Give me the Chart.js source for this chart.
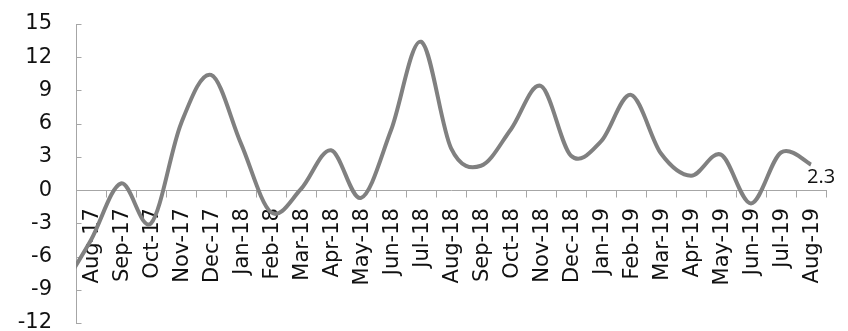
<!DOCTYPE html>
<html>
<head>
<meta charset="utf-8">
<script src="https://cdn.jsdelivr.net/npm/chart.js@4/dist/chart.umd.min.js"></script>
<style>
  html, body { margin: 0; padding: 0; background: #ffffff; }
  #wrap { width: 848px; height: 331px; }
</style>
</head>
<body>
<div id="wrap"><canvas id="chart" width="848" height="331"></canvas></div>
<script>
// Monthly series; the leading month sits just left of the visible range so the
// curve runs in from the axis edge.
const months = [
  'Jul-17',
  'Aug-17', 'Sep-17', 'Oct-17', 'Nov-17', 'Dec-17', 'Jan-18', 'Feb-18', 'Mar-18',
  'Apr-18', 'May-18', 'Jun-18', 'Jul-18', 'Aug-18', 'Sep-18', 'Oct-18', 'Nov-18',
  'Dec-18', 'Jan-19', 'Feb-19', 'Mar-19', 'Apr-19', 'May-19', 'Jun-19', 'Jul-19', 'Aug-19'
];
const growth = [
  -9.0,
  -4.5, 0.6, -3.0, 6.0, 10.4, 4.2, -2.0, 0.1,
  3.6, -0.7, 5.4, 13.4, 3.8, 2.2, 5.5, 9.4,
  3.1, 4.4, 8.6, 3.3, 1.3, 3.2, -1.2, 3.4, 2.3
];
const firstShown = 'Aug-17';
const yMin = -12;
const yMax = 15;
const yStep = 3;

const axisGrey = '#a6a6a6';
const lineGrey = '#808080';
const textColor = '#111111';

// Uniform Catmull-Rom smoothing: bezier handles at 1/6 of the neighbour chord
const smoothCurve = {
  id: 'smoothCurve',
  beforeDatasetsDraw(chart) {
    const meta = chart.getDatasetMeta(0);
    const pts = meta.data;
    const k = 1 / 6;
    for (let i = 0; i < pts.length; i++) {
      const p = pts[i];
      const prev = pts[i - 1] || p;
      const next = pts[i + 1] || p;
      const dx = next.x - prev.x;
      const dy = next.y - prev.y;
      p.cp1x = p.x - dx * k;
      p.cp1y = p.y - dy * k;
      p.cp2x = p.x + dx * k;
      p.cp2y = p.y + dy * k;
    }
    meta.dataset._pointsUpdated = true;
  }
};

// Short tick marks: downward on the category axis (between months),
// inward on the value axis
const axisTicks = {
  id: 'axisTicks',
  beforeDatasetsDraw(chart) {
    const xs = chart.scales.x;
    const ys = chart.scales.y;
    const ctx = chart.ctx;
    const y0 = Math.round(ys.getPixelForValue(0)) + 0.5;
    const xAxis = Math.round(chart.chartArea.left) + 0.5;
    ctx.save();
    ctx.strokeStyle = axisGrey;
    ctx.lineWidth = 1;
    ctx.beginPath();
    const bounds = xs.ticks.map(t => t.value - 0.5);
    bounds.push(xs.ticks[xs.ticks.length - 1].value + 0.5);
    bounds.forEach(v => {
      const px = Math.round(xs.getPixelForValue(v)) + 0.5;
      ctx.moveTo(px, y0);
      ctx.lineTo(px, y0 + 7);
    });
    ys.ticks.forEach(t => {
      const py = Math.round(ys.getPixelForValue(t.value)) + 0.5;
      ctx.moveTo(xAxis, py);
      ctx.lineTo(xAxis + 5, py);
    });
    ctx.stroke();
    ctx.restore();
  }
};

// Value label beside the final point
const lastValueLabel = {
  id: 'lastValueLabel',
  afterDatasetsDraw(chart) {
    const meta = chart.getDatasetMeta(0);
    const idx = growth.length - 1;
    const pt = meta.data[idx];
    const ctx = chart.ctx;
    ctx.save();
    ctx.font = '20px "Open Sans"';
    ctx.fillStyle = textColor;
    ctx.textAlign = 'left';
    ctx.textBaseline = 'middle';
    ctx.fillText(growth[idx].toFixed(1), pt.x - 4, pt.y + 13);
    ctx.restore();
  }
};

new Chart(document.getElementById('chart'), {
  type: 'line',
  data: {
    labels: months,
    datasets: [{
      data: growth,
      borderColor: lineGrey,
      borderWidth: 4,
      borderJoinStyle: 'round',
      pointRadius: 0,
      pointHoverRadius: 0,
      tension: 0.4,
      fill: false,
      clip: { left: 0, top: false, right: false, bottom: false }
    }]
  },
  options: {
    responsive: false,
    animation: false,
    events: [],
    layout: { padding: { top: 24, bottom: 8, left: 0, right: 22 } },
    plugins: { legend: { display: false }, tooltip: { enabled: false } },
    scales: {
      x: {
        type: 'category',
        min: firstShown,
        offset: true,
        position: { y: 0 },
        grid: { offset: true, drawOnChartArea: false, drawTicks: false },
        border: { display: true, color: axisGrey, width: 1 },
        ticks: {
          autoSkip: false,
          maxRotation: 90,
          minRotation: 90,
          padding: 18,
          labelOffset: 2,
          color: textColor,
          font: { family: '"DejaVu Sans"', size: 21 }
        },
        afterFit(scale) {
          scale.paddingLeft = 0;
          scale.paddingRight = 0;
        }
      },
      y: {
        min: yMin,
        max: yMax,
        grid: { drawOnChartArea: false, drawTicks: false },
        border: { display: true, color: axisGrey, width: 1 },
        ticks: {
          stepSize: yStep,
          padding: 24,
          color: textColor,
          font: { family: '"DejaVu Sans"', size: 21 }
        },
        afterFit(scale) {
          scale.width = 76;
          scale.paddingTop = 0;
          scale.paddingBottom = 0;
        }
      }
    }
  },
  plugins: [smoothCurve, axisTicks, lastValueLabel]
});
</script>
</body>
</html>
